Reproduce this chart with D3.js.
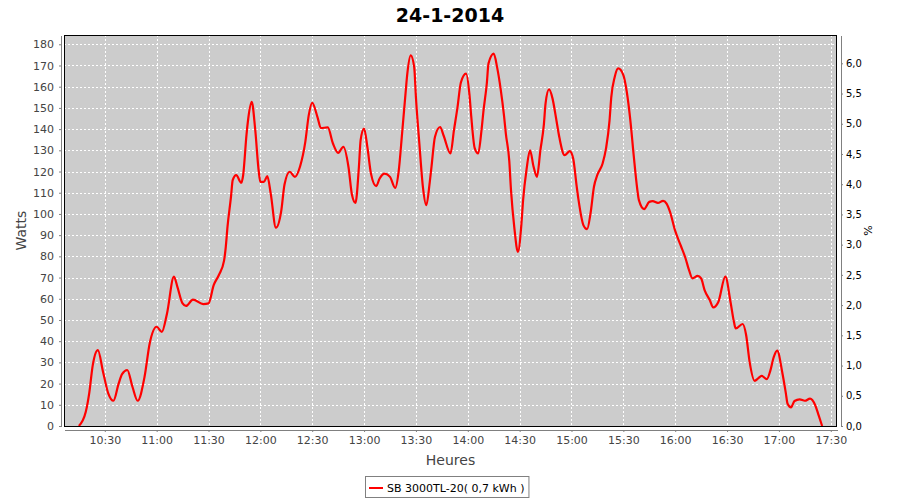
<!DOCTYPE html>
<html>
<head>
<meta charset="utf-8">
<script src="https://cdn.jsdelivr.net/npm/d3@7"></script>
<style>
  html, body { margin: 0; padding: 0; background: #ffffff; }
  svg { display: block; font-family: "DejaVu Sans", sans-serif; }
</style>
</head>
<body>
<svg id="chart" width="900" height="500"></svg>
<script>
// ---------- data ----------
const chartTitle = "24-1-2014";
const seriesName = "SB 3000TL-20( 0,7 kWh )";
const times = [
  "10:15","10:19","10:21","10:23","10:26","10:29","10:32","10:35","10:38","10:40","10:43",
  "10:46","10:49","10:53","10:56","11:00","11:03","11:06","11:10","11:12","11:15",
  "11:17","11:21","11:27","11:30","11:33","11:36","11:39","11:40","11:41","11:43",
  "11:44","11:46","11:49","11:50","11:52","11:53","11:55","11:57","11:59","12:00",
  "12:02","12:04","12:06","12:09","12:12","12:14","12:17","12:20","12:23","12:26",
  "12:28","12:30","12:33","12:35","12:39","12:42","12:45","12:48","12:51","12:53",
  "12:55","12:57","12:58","13:00","13:02","13:04","13:07","13:09","13:12","13:15",
  "13:18","13:20","13:22","13:24","13:25","13:27","13:29","13:30","13:32","13:34",
  "13:36","13:38","13:39","13:41","13:44","13:46","13:50","13:52","13:54","13:56",
  "13:59","14:01","14:02","14:04","14:06","14:08","14:09","14:11","14:12","14:15",
  "14:17","14:19","14:21","14:22","14:24","14:25","14:27","14:29","14:31","14:32",
  "14:34","14:36","14:38","14:40","14:42","14:44","14:45","14:47","14:49","14:51",
  "14:53","14:56","14:59","15:01","15:03","15:04","15:07","15:09","15:11","15:13",
  "15:15","15:18","15:20","15:22","15:23","15:25","15:27","15:30","15:32","15:34",
  "15:36","15:38","15:39","15:42","15:45","15:47","15:50","15:53","15:55","15:57",
  "16:00","16:03","16:06","16:08","16:10","16:13","16:15","16:17","16:20","16:22",
  "16:25","16:29","16:32","16:34","16:35","16:39","16:41","16:43","16:46","16:48",
  "16:50","16:53","16:55","16:57","16:59","17:02","17:04","17:05","17:07","17:09",
  "17:12","17:15","17:18","17:21","17:23","17:25"
];
const watts = [
  0,6.7,15.5,28.5,35.8,25.5,15.4,11.9,20,24.5,26.4,
  18.5,11.9,23.2,39,46.8,44.4,53.1,70.4,65.6,57.8,
  56.6,59.6,57.5,57.8,66.4,71.2,78,84.5,94,108,
  115.9,118.3,114.7,118,137.5,145,152.8,140,120.6,115.1,
  115.1,117.8,109.6,93.5,101,114,119.9,117.5,122.5,134,
  146.6,152.4,145.8,140.5,140.8,133.2,128.8,131.6,122,109,
  105.2,122,134.8,140.3,131,119,113.1,116.7,119,117.5,
  112.3,120,138,157,166,174.8,169.3,155,133,113,
  104.1,115,122.2,136.3,141,137,128.5,139.5,150,162,
  166.2,156,146,131,128.5,140,148,161.5,171,175.6,
  169,159,146,138,125,111.2,93,82.1,95,106.5,
  121,130,122.5,117.5,130,142,152.1,158.7,154.5,145.5,
  136,127.7,129.6,126,113,107,94.5,92.8,100.2,112.8,
  118.5,123.8,131,144,155,164.6,168.6,165.5,157.5,144.5,
  127.5,112,106.5,102.3,105.7,106,105.2,106.2,104.9,101,
  92,85.5,79,73.5,69.6,70.8,69.6,64.1,59.4,55.9,
  58.6,70.4,58.5,49,46,48.1,43,30.5,21.3,22.5,
  23.6,22.1,26,32.5,35.5,25,15.5,10.5,8.8,11.8,
  12.6,11.9,12.9,9.8,5,0
];
const wattTicks = [0,10,20,30,40,50,60,70,80,90,100,110,120,130,140,150,160,170,180];
const pctTicks = [0,0.5,1,1.5,2,2.5,3,3.5,4,4.5,5,5.5,6];
const timeTicks = ["10:30","11:00","11:30","12:00","12:30","13:00","13:30","14:00","14:30","15:00","15:30","16:00","16:30","17:00","17:30"];
const xLabel = "Heures", yLabel = "Watts", y2Label = "%";

// ---------- layout ----------
const svg = d3.select("#chart");
const W = 900, H = 500;
const plot = { left: 64, right: 837, top: 35, bottom: 426 };
const parse = d3.timeParse("%H:%M");
const data = times.map((t, i) => ({ t: parse(t), v: watts[i] }));

const ext = d3.extent(data, d => d.t);
const span = ext[1] - ext[0];
const x = d3.scaleTime()
  .domain([new Date(+ext[0] - span * 0.02), new Date(+ext[1] + span * 0.02)])
  .range([plot.left, plot.right]);
const yMax = d3.max(watts) * 1.05;
const y = d3.scaleLinear().domain([0, yMax]).range([plot.bottom, plot.top]);
const y2 = d3.scaleLinear().domain([0, 6.468]).range([plot.bottom, plot.top]);

svg.append("rect").attr("width", W).attr("height", H).attr("fill", "#ffffff");

// title
svg.append("text").attr("x", 450).attr("y", 22).attr("text-anchor", "middle")
  .attr("font-size", 19).attr("font-weight", "bold").attr("fill", "#000")
  .text(chartTitle);

// plot background
svg.append("rect").attr("x", plot.left).attr("y", plot.top)
  .attr("width", plot.right - plot.left).attr("height", plot.bottom - plot.top)
  .attr("fill", "#cccccc");

// gridlines
const grid = svg.append("g").attr("shape-rendering", "crispEdges");
grid.selectAll("line.h").data(wattTicks).join("line")
  .attr("x1", plot.left).attr("x2", plot.right)
  .attr("y1", d => Math.round(y(d)) + 0.5).attr("y2", d => Math.round(y(d)) + 0.5)
  .attr("stroke", "#ffffff").attr("stroke-width", 1).attr("stroke-dasharray", "2,2");
grid.selectAll("line.v").data(timeTicks.map(parse)).join("line")
  .attr("y1", plot.top).attr("y2", plot.bottom)
  .attr("x1", d => Math.round(x(d)) + 0.5).attr("x2", d => Math.round(x(d)) + 0.5)
  .attr("stroke", "#ffffff").attr("stroke-width", 1).attr("stroke-dasharray", "2,2");

// series line
const line = d3.line().x(d => x(d.t)).y(d => y(d.v)).curve(d3.curveMonotoneX);
svg.append("path").datum(data).attr("d", line)
  .attr("fill", "none").attr("stroke", "#ff0000").attr("stroke-width", 2.2)
  .attr("stroke-linejoin", "round");

// plot border
svg.append("rect").attr("x", plot.left + 0.5).attr("y", plot.top + 0.5)
  .attr("width", plot.right - plot.left - 1).attr("height", plot.bottom - plot.top)
  .attr("fill", "none").attr("stroke", "#000").attr("stroke-width", 1)
  .attr("shape-rendering", "crispEdges");

// axes
const axisColor = "#808080", labelColor = "#444444";
const xAxis = svg.append("g").attr("transform", `translate(0,${plot.bottom + 4})`)
  .call(d3.axisBottom(x).tickValues(timeTicks.map(parse)).tickFormat(d3.timeFormat("%H:%M"))
    .tickSizeInner(2).tickSizeOuter(0).tickPadding(4));
const yAxis = svg.append("g").attr("transform", `translate(${plot.left - 3},0)`)
  .call(d3.axisLeft(y).tickValues(wattTicks).tickSizeInner(2).tickSizeOuter(0).tickPadding(5));
const y2Axis = svg.append("g").attr("transform", `translate(${plot.right + 4},0)`)
  .call(d3.axisRight(y2).tickValues(pctTicks).tickFormat(d => d3.format(".1f")(d).replace(".", ","))
    .tickSizeInner(2).tickSizeOuter(0).tickPadding(3));

[xAxis, yAxis].forEach(g => {
  g.selectAll("path.domain").attr("stroke", axisColor).attr("shape-rendering", "crispEdges");
  g.selectAll(".tick line").attr("stroke", axisColor);
  g.selectAll("text").attr("font-size", 11).attr("fill", labelColor).attr("font-family", "DejaVu Sans");
});
y2Axis.selectAll("path.domain").attr("stroke", axisColor).attr("shape-rendering", "crispEdges");
y2Axis.selectAll(".tick line").attr("stroke", axisColor);
y2Axis.selectAll("text").attr("font-size", 10).attr("fill", "#000").attr("font-family", "DejaVu Sans");

// axis titles
svg.append("text").attr("x", (plot.left + plot.right) / 2).attr("y", 465)
  .attr("text-anchor", "middle").attr("font-size", 14).attr("fill", labelColor).text(xLabel);
svg.append("text").attr("transform", `translate(26,${(plot.top + plot.bottom) / 2}) rotate(-90)`)
  .attr("text-anchor", "middle").attr("font-size", 14).attr("fill", labelColor).text(yLabel);
svg.append("text").attr("transform", `translate(872,${(plot.top + plot.bottom) / 2}) rotate(-90)`)
  .attr("text-anchor", "middle").attr("font-size", 11).attr("fill", "#000").text(y2Label);

// legend
const lg = svg.append("g");
const lt = lg.append("text").attr("x", 387).attr("y", 492).attr("font-size", 11)
  .attr("fill", "#000").text(seriesName);
const tw = lt.node().getComputedTextLength();
lg.insert("rect", "text").attr("x", 365.5).attr("y", 476.5).attr("width", 387 + tw + 4 - 365).attr("height", 21)
  .attr("fill", "#fff").attr("stroke", "#808080").attr("stroke-width", 1);
lg.append("line").attr("x1", 369).attr("x2", 383).attr("y1", 488).attr("y2", 488)
  .attr("stroke", "#ff0000").attr("stroke-width", 2);
</script>
</body>
</html>
